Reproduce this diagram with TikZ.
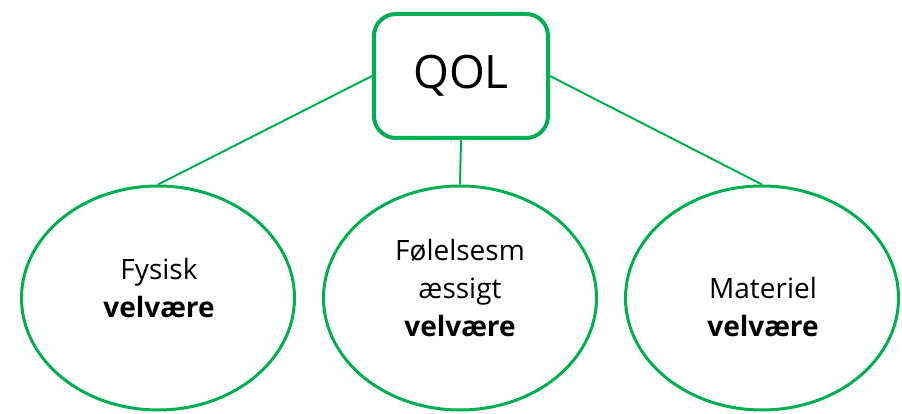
\documentclass[tikz,border=0pt]{standalone}
\usepackage{fontspec}
\setmainfont{Open Sans}
\usetikzlibrary{shapes}
\definecolor{qolgreen}{HTML}{00B050}

\begin{document}
\begin{tikzpicture}[x=1pt, y=1pt]
    \tikzstyle{topbox} = [draw=qolgreen, line width=4pt, rounded corners=22pt, minimum width=174pt, minimum height=124pt, inner sep=0pt]
    \tikzstyle{wellbeing} = [draw=qolgreen, line width=3pt, shape=ellipse, minimum width=273pt, minimum height=224pt, inner sep=0pt]
    \tikzstyle{welltext} = [align=center, anchor=base, inner sep=0pt, font=\fontsize{28}{38}\selectfont]
    \tikzstyle{link} = [draw=qolgreen, line width=2pt]
    \useasboundingbox (0,0) rectangle (902,414);
    \node (qol) [topbox, font=\fontsize{46}{46}\selectfont] at (461, 338) {QOL};
    \node (fys) [wellbeing] at (158, 116) {};
    \node (fol) [wellbeing] at (460, 116) {};
    \node (mat) [wellbeing] at (762, 116) {};
    \node (fystext) [welltext] at (159, 96) {Fysisk\\\textbf{velvære}};
    \node (foltext) [welltext] at (460, 77) {Følelsesm\\æssigt\\\textbf{velvære}};
    \node (mattext) [welltext] at (763, 77) {Materiel\\\textbf{velvære}};
      \draw [link] (qol.west) -- (fys.north);
      \draw [link] (qol.south) -- (fol.north);
      \draw [link] (qol.east) -- (mat.north);
\end{tikzpicture}
\end{document}
